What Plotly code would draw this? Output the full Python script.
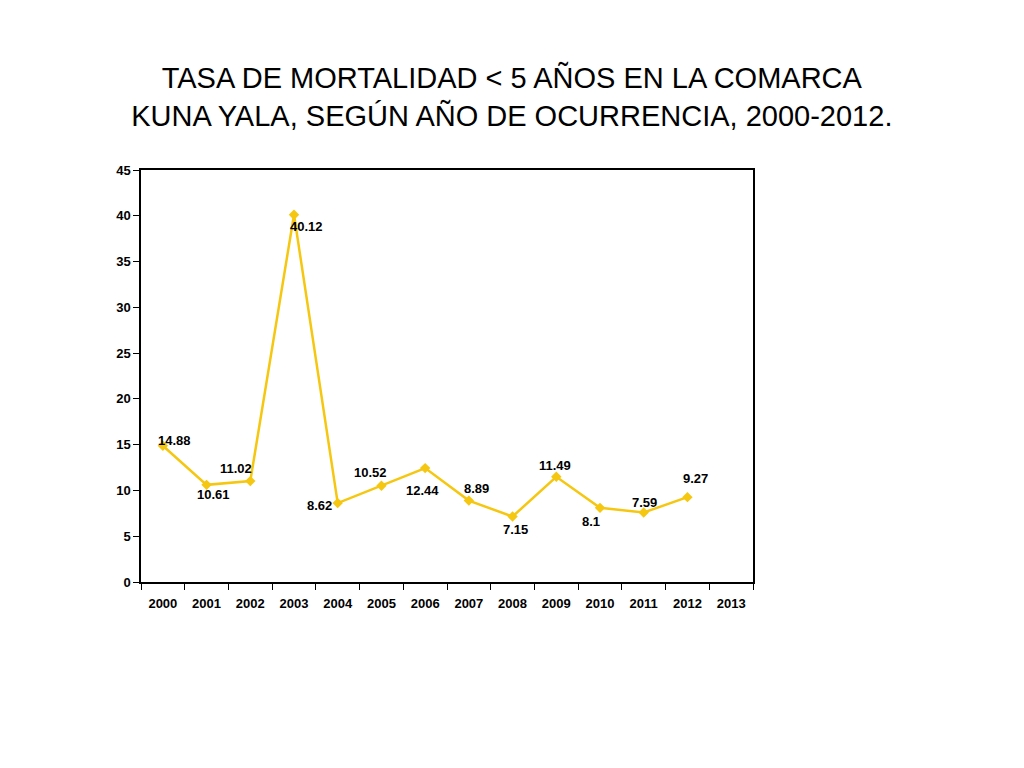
import plotly.graph_objects as go

# datos del grafico
years = ["2000", "2001", "2002", "2003", "2004", "2005", "2006",
         "2007", "2008", "2009", "2010", "2011", "2012", "2013"]
rates = [14.88, 10.61, 11.02, 40.12, 8.62, 10.52, 12.44,
         8.89, 7.15, 11.49, 8.1, 7.59, 9.27, None]
y_ticks = [0, 5, 10, 15, 20, 25, 30, 35, 40, 45]

# desplazamiento (px) de cada etiqueta respecto a su punto
label_dx = [12, 7, -14, 12, -18, -11, -3, 8, 3, -1, -9, 1, 8]
label_dy = [5, -10, 13, -12, -2, 13, -22, 12, -13, 11, -14, 10, 19]

gold = "#F5C710"
FONT = "Liberation Sans, Arial"

fig = go.Figure()
fig.add_trace(go.Scatter(
    x=years, y=rates,
    mode="lines+markers",
    line=dict(color=gold, width=2.5),
    marker=dict(symbol="diamond", size=8, color=gold),
    showlegend=False,
))

# etiquetas de datos (x = indice de categoria)
for i, (v, dx, dy) in enumerate(zip(rates, label_dx, label_dy)):
    fig.add_annotation(
        x=i, y=v, xref="x", yref="y", text=str(v), showarrow=False,
        xshift=dx, yshift=dy,
        font=dict(family=FONT, size=13, color="black", weight="bold"),
    )

fig.update_layout(
    width=1024, height=768,
    paper_bgcolor="white", plot_bgcolor="white",
    margin=dict(l=133, r=279, t=162, b=194),
    font=dict(family=FONT, color="black"),
    title=dict(
        text="TASA DE MORTALIDAD < 5 AÑOS EN LA COMARCA<br>KUNA YALA, SEGÚN AÑO DE OCURRENCIA, 2000-2012.",
        x=0.492, xref="container", xanchor="center",
        y=0.896, yref="container", yanchor="middle",
        font=dict(size=29, family=FONT, color="black"),
    ),
)

fig.update_xaxes(
    type="category", categoryorder="array", categoryarray=years,
    tickson="boundaries", ticks="outside", ticklen=6, tickcolor="black",
    showline=True, linecolor="black", linewidth=1.5, mirror=True,
    showgrid=False, zeroline=False, ticklabelstandoff=9,
    tickfont=dict(size=13, family=FONT, color="black", weight="bold"),
    range=[-0.5, 13.5],
)
fig.update_yaxes(
    range=[0, 45], tickvals=y_ticks,
    ticks="outside", ticklen=6, tickcolor="black",
    showline=True, linecolor="black", linewidth=1.5, mirror=True,
    showgrid=False, zeroline=False,
    tickfont=dict(size=13, family=FONT, color="black", weight="bold"),
)

fig.write_html("out.html")
